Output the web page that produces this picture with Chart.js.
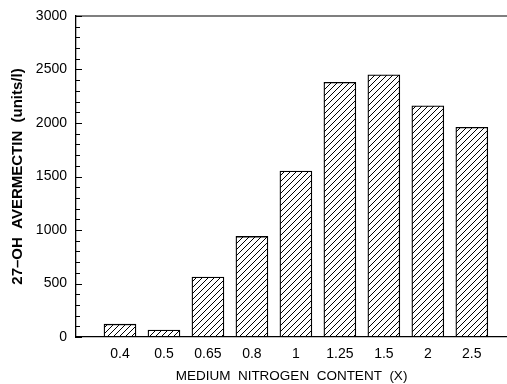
<!DOCTYPE html>
<html>
<head>
<meta charset="utf-8">
<script src="https://cdn.jsdelivr.net/npm/chart.js@4.4.1/dist/chart.umd.min.js"></script>
<style>
  html, body { margin: 0; padding: 0; background: #fff; }
  #wrap { width: 507px; height: 384px; }
</style>
</head>
<body>
<div id="wrap"><canvas id="chart" width="507" height="384"></canvas></div>
<script>
// nitrogen levels (x labels) and measured titre
const nitrogenLabels = ['0.4', '0.5', '0.65', '0.8', '1', '1.25', '1.5', '2', '2.5'];
const avermectin = [120, 65, 560, 940, 1550, 2380, 2450, 2160, 1960];
const yMajorTicks = [0, 500, 1000, 1500, 2000, 2500, 3000];

// diagonal hatch like the original plot
function makeHatch() {
  const c = document.createElement('canvas');
  c.width = 6; c.height = 6;
  const g = c.getContext('2d');
  g.fillStyle = '#fff';
  g.fillRect(0, 0, 6, 6);
  g.strokeStyle = '#000';
  g.lineWidth = 1;
  g.beginPath();
  g.moveTo(0, 6); g.lineTo(6, 0);
  g.moveTo(-1, 1); g.lineTo(1, -1);
  g.moveTo(5, 7); g.lineTo(7, 5);
  g.stroke();
  return g.createPattern(c, 'repeat');
}

// frame: top line + inward ticks on the y axis
const framePlugin = {
  id: 'frame',
  afterDraw(chart) {
    const ctx = chart.ctx;
    const a = chart.chartArea;
    const y = chart.scales.y;
    ctx.save();
    ctx.strokeStyle = '#000';
    ctx.lineWidth = 1.2;
    ctx.beginPath();
    ctx.moveTo(a.left, a.top);
    ctx.lineTo(a.right, a.top);
    for (let v = 0; v <= 3000; v += 100) {
      const py = Math.round(y.getPixelForValue(v)) + 0.5;
      const len = v % 500 === 0 ? 6 : 4;
      ctx.moveTo(a.left, py);
      ctx.lineTo(a.left + len, py);
    }
    ctx.stroke();
    ctx.restore();
  }
};

const points = avermectin.map((v, i) => ({ x: i + 1, y: v }));
const font = 'Liberation Sans, Arial, Helvetica';

new Chart(document.getElementById('chart').getContext('2d'), {
  type: 'bar',
  data: {
    datasets: [{
      data: points,
      backgroundColor: makeHatch(),
      borderColor: '#000',
      borderWidth: 1.3,
      borderSkipped: false,
      barThickness: 32
    }]
  },
  options: {
    responsive: false,
    animation: false,
    layout: { padding: { top: 6, right: 0, left: 0, bottom: 0 } },
    plugins: { legend: { display: false }, tooltip: { enabled: false } },
    scales: {
      x: {
        type: 'linear',
        offset: false,
        min: 0,
        max: 9.8,
        grid: { display: false, drawTicks: false },
        border: { color: '#000', width: 1.3 },
        afterBuildTicks: s => { s.ticks = nitrogenLabels.map((_, i) => ({ value: i + 1 })); },
        ticks: {
          color: '#000',
          padding: 9,
          font: { family: font, size: 14 },
          callback: v => nitrogenLabels[v - 1]
        },
        title: {
          display: true,
          text: 'MEDIUM  NITROGEN  CONTENT  (X)',
          color: '#000',
          padding: { top: 3, bottom: 0 },
          font: { family: font, size: 13.5 }
        },
        afterFit: s => { s.height = 47; }
      },
      y: {
        min: 0,
        max: 3000,
        grid: { display: false, drawTicks: false },
        border: { color: '#000', width: 1.3 },
        afterBuildTicks: s => { s.ticks = yMajorTicks.map(v => ({ value: v })); },
        ticks: {
          color: '#000',
          padding: 9,
          font: { family: font, size: 14, lineHeight: 1 },
          callback: v => String(v)
        },
        title: {
          display: true,
          text: '27\u2013OH  AVERMECTIN  (units/l)',
          color: '#000',
          padding: { top: 9, bottom: 4 },
          font: { family: font, size: 15, weight: 'bold' }
        },
        afterFit: s => { s.width = 76; }
      }
    }
  },
  plugins: [framePlugin]
});
</script>
</body>
</html>
